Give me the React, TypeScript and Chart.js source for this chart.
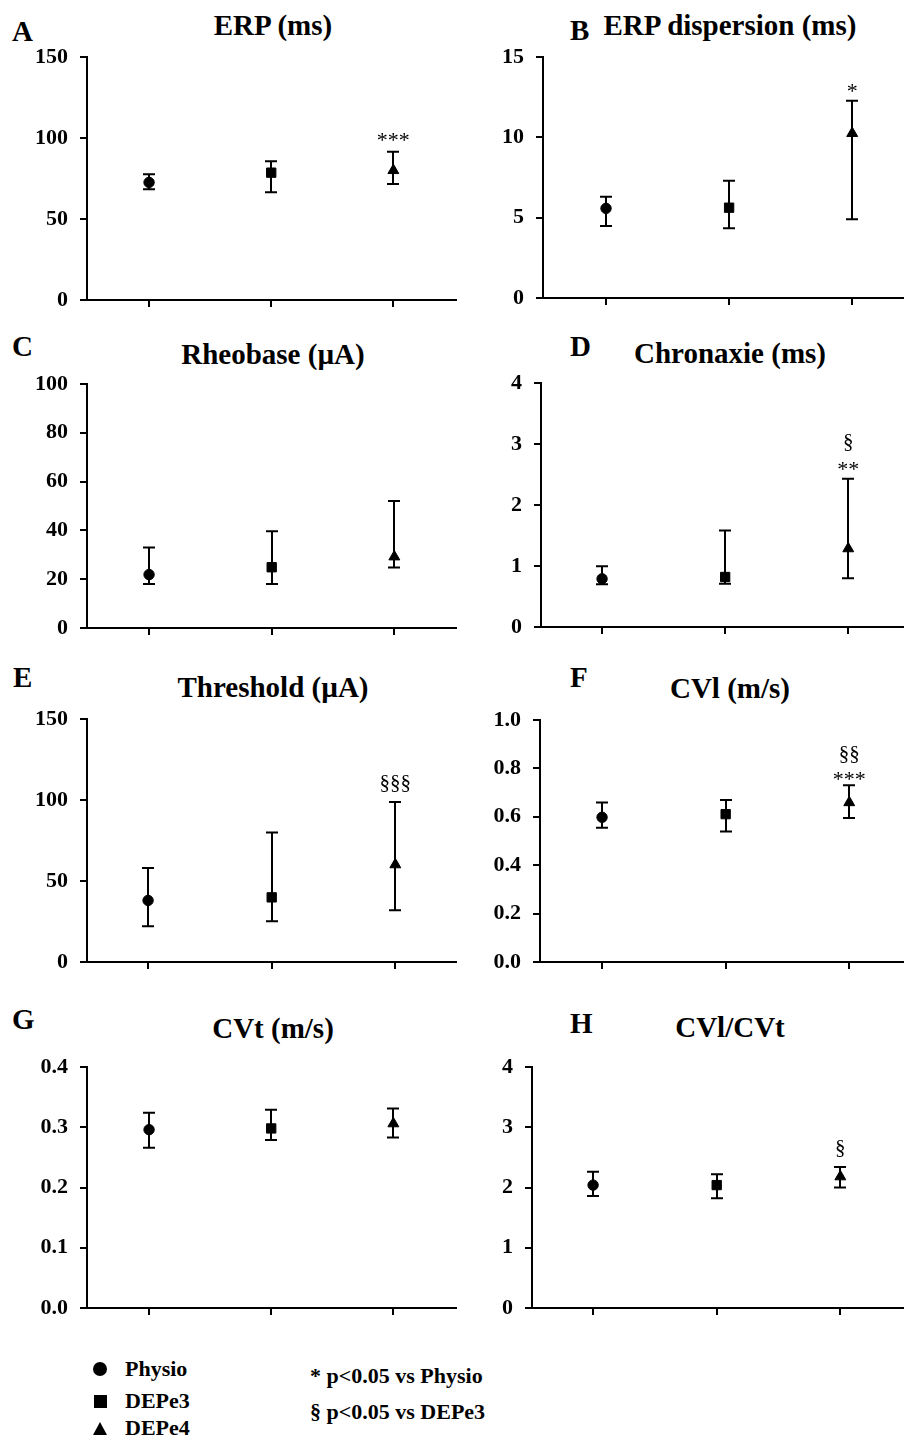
import React, { useEffect, useRef } from 'react';
import { Chart, registerables } from 'chart.js';

Chart.register(...registerables);

const SERIF = '"Liberation Serif", "Times New Roman", Times, serif';

// ---------- data ----------
const groups = ['Physio', 'DEPe3', 'DEPe4'];
const groupPos = [1, 2, 3];
const markerShapes = ['circle', 'rect', 'triangle'];

// A  ERP (ms)
const erpMean = [72.6, 78.6, 80.0];
const erpUpper = [77.7, 85.6, 91.5];
const erpLower = [68.3, 66.5, 71.6];
const erpTicks = [0, 50, 100, 150];

// B  ERP dispersion (ms)
const dispMean = [5.58, 5.62, 10.25];
const dispUpper = [6.3, 7.3, 12.28];
const dispLower = [4.48, 4.34, 4.9];
const dispTicks = [0, 5, 10, 15];

// C  Rheobase (µA)
const rheoMean = [21.9, 24.9, 29.2];
const rheoUpper = [33.0, 39.7, 52.0];
const rheoLower = [18.0, 18.0, 24.8];
const rheoTicks = [0, 20, 40, 60, 80, 100];

// D  Chronaxie (ms)
const chronMean = [0.79, 0.82, 1.285];
const chronUpper = [0.995, 1.58, 2.43];
const chronLower = [0.7, 0.71, 0.8];
const chronTicks = [0, 1, 2, 3, 4];

// E  Threshold (µA)
const threshMean = [38.0, 39.9, 60.1];
const threshUpper = [58.0, 80.0, 98.8];
const threshLower = [22.0, 25.1, 31.9];
const threshTicks = [0, 50, 100, 150];

// F  CVl (m/s)
const cvlMean = [0.598, 0.611, 0.659];
const cvlUpper = [0.659, 0.669, 0.73];
const cvlLower = [0.555, 0.539, 0.595];
const cvlTicks = [0, 0.2, 0.4, 0.6, 0.8, 1.0];

// G  CVt (m/s)
const cvtMean = [0.296, 0.298, 0.306];
const cvtUpper = [0.324, 0.329, 0.331];
const cvtLower = [0.266, 0.279, 0.283];
const cvtTicks = [0, 0.1, 0.2, 0.3, 0.4];

// H  CVl/CVt
const ratioMean = [2.04, 2.04, 2.18];
const ratioUpper = [2.26, 2.22, 2.34];
const ratioLower = [1.86, 1.82, 2.0];
const ratioTicks = [0, 1, 2, 3, 4];

const sigPhysioLabel = '* p<0.05 vs Physio';
const sigDepe3Label = '§ p<0.05 vs DEPe3';

// ---------- layout ----------
const YW = 75; // y-axis box width
const PT = 14;
const PR = 2;
const PB = 2;
const XH = 12;
const CAP = 6;

type Note = { text: string; off: number };
type Panel = {
  letter: string;
  title: string;
  mean: number[];
  upper: number[];
  lower: number[];
  ticks: number[];
  decimals: number;
  notes: Note[];
  axisX: number;
  top: number;
  bottom: number;
  right: number;
  xMin: number;
  xMax: number;
  titleX: number;
  titleY: number;
  letterX: number;
  letterY: number;
};

const panels: Panel[] = [
  {
    letter: 'A', title: 'ERP (ms)', mean: erpMean, upper: erpUpper, lower: erpLower, ticks: erpTicks, decimals: 0,
    notes: [{ text: '***', off: 5 }],
    axisX: 87, top: 57, bottom: 300, right: 462, xMin: 0.492, xMax: 3.516,
    titleX: 273, titleY: 25, letterX: 12, letterY: 31,
  },
  {
    letter: 'B', title: 'ERP dispersion (ms)', mean: dispMean, upper: dispUpper, lower: dispLower, ticks: dispTicks, decimals: 0,
    notes: [{ text: '*', off: 3 }],
    axisX: 543, top: 57, bottom: 298, right: 909, xMin: 0.488, xMax: 3.416,
    titleX: 730, titleY: 25, letterX: 570, letterY: 30,
  },
  {
    letter: 'C', title: 'Rheobase (µA)', mean: rheoMean, upper: rheoUpper, lower: rheoLower, ticks: rheoTicks, decimals: 0,
    notes: [],
    axisX: 87, top: 384, bottom: 628, right: 462, xMin: 0.494, xMax: 3.506,
    titleX: 273, titleY: 354, letterX: 12, letterY: 346,
  },
  {
    letter: 'D', title: 'Chronaxie (ms)', mean: chronMean, upper: chronUpper, lower: chronLower, ticks: chronTicks, decimals: 0,
    notes: [{ text: '**', off: 3 }, { text: '§', off: 31 }],
    axisX: 541, top: 383, bottom: 627, right: 909, xMin: 0.504, xMax: 3.448,
    titleX: 730, titleY: 353, letterX: 570, letterY: 346,
  },
  {
    letter: 'E', title: 'Threshold (µA)', mean: threshMean, upper: threshUpper, lower: threshLower, ticks: threshTicks, decimals: 0,
    notes: [{ text: '§§§', off: 13 }],
    axisX: 87, top: 719, bottom: 962, right: 462, xMin: 0.506, xMax: 3.494,
    titleX: 273, titleY: 687, letterX: 13, letterY: 677,
  },
  {
    letter: 'F', title: 'CVl (m/s)', mean: cvlMean, upper: cvlUpper, lower: cvlLower, ticks: cvlTicks, decimals: 1,
    notes: [{ text: '***', off: -1 }, { text: '§§', off: 25 }],
    axisX: 540, top: 720, bottom: 962, right: 909, xMin: 0.498, xMax: 3.438,
    titleX: 730, titleY: 688, letterX: 570, letterY: 677,
  },
  {
    letter: 'G', title: 'CVt (m/s)', mean: cvtMean, upper: cvtUpper, lower: cvtLower, ticks: cvtTicks, decimals: 1,
    notes: [],
    axisX: 87, top: 1067, bottom: 1308, right: 462, xMin: 0.492, xMax: 3.516,
    titleX: 273, titleY: 1028, letterX: 12, letterY: 1019,
  },
  {
    letter: 'H', title: 'CVl/CVt', mean: ratioMean, upper: ratioUpper, lower: ratioLower, ticks: ratioTicks, decimals: 0,
    notes: [{ text: '§', off: 13 }],
    axisX: 532, top: 1067, bottom: 1308, right: 909, xMin: 0.506, xMax: 3.51,
    titleX: 730, titleY: 1027, letterX: 570, letterY: 1023,
  },
];

function zeroPad(s: any) {
  s.paddingTop = 0;
  s.paddingBottom = 0;
  s.paddingLeft = 0;
  s.paddingRight = 0;
}

function makeOverlay(p: Panel) {
  return {
    id: 'errbars' + p.letter,
    beforeDatasetsDraw(chart: any) {
      const { ctx, scales } = chart;
      const xs = scales.x;
      const ys = scales.y;
      ctx.save();
      ctx.strokeStyle = '#000';
      ctx.lineWidth = 2;
      groupPos.forEach((gx, i) => {
        const x = Math.round(xs.getPixelForValue(gx));
        const yu = ys.getPixelForValue(p.upper[i]);
        const yl = ys.getPixelForValue(p.lower[i]);
        ctx.beginPath();
        ctx.moveTo(x, yu);
        ctx.lineTo(x, yl);
        ctx.moveTo(x - CAP, yu);
        ctx.lineTo(x + CAP, yu);
        ctx.moveTo(x - CAP, yl);
        ctx.lineTo(x + CAP, yl);
        ctx.stroke();
      });
      ctx.restore();
    },
    afterDatasetsDraw(chart: any) {
      if (!p.notes.length) return;
      const { ctx, scales } = chart;
      const idx = 2;
      const x = scales.x.getPixelForValue(groupPos[idx]);
      const yu = scales.y.getPixelForValue(p.upper[idx]);
      ctx.save();
      ctx.fillStyle = '#000';
      ctx.textAlign = 'center';
      ctx.textBaseline = 'alphabetic';
      p.notes.forEach((n) => {
        ctx.font = n.text.startsWith('*') ? `22px ${SERIF}` : `21px ${SERIF}`;
        ctx.fillText(n.text, x, yu - n.off);
      });
      ctx.restore();
    },
  };
}

function PanelChart({ p }: { p: Panel }) {
  const ref = useRef<HTMLCanvasElement>(null);
  const width = YW + (p.right - p.axisX) + PR;
  const height = PT + (p.bottom - p.top) + XH + PB;

  useEffect(() => {
    if (!ref.current) return;
    const axisGrid = {
      drawOnChartArea: false,
      drawTicks: true,
      tickLength: 7,
      color: '#000',
      lineWidth: 2,
    };
    const axisBorder = { display: true, color: '#000', width: 2 };
    const chart = new Chart(ref.current, {
      type: 'scatter',
      data: {
        datasets: [
          {
            label: p.title,
            data: groupPos.map((x, i) => ({ x, y: p.mean[i] })),
            pointStyle: markerShapes as any,
            pointRadius: [5.2, 6.6, 6.3],
            pointBorderWidth: 1,
            backgroundColor: '#000',
            borderColor: '#000',
          },
        ],
      },
      options: {
        animation: false,
        responsive: false,
        events: [],
        layout: { padding: { top: PT, right: PR, bottom: PB, left: 0 } },
        plugins: {
          legend: { display: false },
          tooltip: { enabled: false },
          title: { display: false },
        },
        scales: {
          x: {
            type: 'linear',
            min: p.xMin,
            max: p.xMax,
            afterBuildTicks: (s: any) => {
              s.ticks = groupPos.map((v) => ({ value: v }));
            },
            afterFit: (s: any) => {
              s.height = XH;
              zeroPad(s);
            },
            ticks: { display: false },
            grid: axisGrid,
            border: axisBorder,
          },
          y: {
            type: 'linear',
            min: p.ticks[0],
            max: p.ticks[p.ticks.length - 1],
            afterBuildTicks: (s: any) => {
              s.ticks = p.ticks.map((v) => ({ value: v }));
            },
            afterFit: (s: any) => {
              s.width = YW;
              zeroPad(s);
            },
            ticks: {
              color: '#000',
              padding: 12,
              font: { family: SERIF, size: 22, weight: 'bold' },
              callback: (v: any) => Number(v).toFixed(p.decimals),
            },
            grid: axisGrid,
            border: axisBorder,
          },
        },
      } as any,
      plugins: [makeOverlay(p)],
    });
    return () => chart.destroy();
  }, []);

  return (
    <canvas
      ref={ref}
      width={width}
      height={height}
      style={{ position: 'absolute', left: p.axisX - YW, top: p.top - PT, width, height }}
    />
  );
}

const textBase: React.CSSProperties = {
  position: 'absolute',
  fontFamily: SERIF,
  fontWeight: 'bold',
  lineHeight: 1,
  whiteSpace: 'nowrap',
  color: '#000',
};

function Legend() {
  const rows = [
    { y: 1369, marker: <div style={{ width: 14, height: 14, borderRadius: '50%', background: '#000' }} /> },
    { y: 1401, marker: <div style={{ width: 13, height: 13, background: '#000' }} /> },
    {
      y: 1428,
      marker: (
        <div
          style={{
            width: 0,
            height: 0,
            borderLeft: '7px solid transparent',
            borderRight: '7px solid transparent',
            borderBottom: '13px solid #000',
          }}
        />
      ),
    },
  ];
  return (
    <>
      {rows.map((r, i) => (
        <React.Fragment key={groups[i]}>
          <div
            style={{
              position: 'absolute',
              left: 93,
              top: r.y - 7,
              width: 14,
              height: 14,
              display: 'flex',
              alignItems: 'center',
              justifyContent: 'center',
            }}
          >
            {r.marker}
          </div>
          <div style={{ ...textBase, fontSize: 22, left: 125, top: r.y - 11 }}>{groups[i]}</div>
        </React.Fragment>
      ))}
      <div style={{ ...textBase, fontSize: 22, left: 310, top: 1376 - 11 }}>{sigPhysioLabel}</div>
      <div style={{ ...textBase, fontSize: 22, left: 310, top: 1412 - 11 }}>{sigDepe3Label}</div>
    </>
  );
}

export default function App() {
  return (
    <div
      style={{
        position: 'absolute',
        left: 0,
        top: 0,
        width: 909,
        height: 1441,
        overflow: 'hidden',
        background: '#fff',
      }}
    >
      {panels.map((p) => (
        <React.Fragment key={p.letter}>
          <div style={{ ...textBase, fontSize: 29, left: p.letterX, top: p.letterY - 14.5 }}>{p.letter}</div>
          <div
            style={{
              ...textBase,
              fontSize: 29,
              left: p.titleX - 200,
              width: 400,
              textAlign: 'center',
              top: p.titleY - 14.5,
            }}
          >
            {p.title}
          </div>
          <PanelChart p={p} />
        </React.Fragment>
      ))}
      <Legend />
    </div>
  );
}
